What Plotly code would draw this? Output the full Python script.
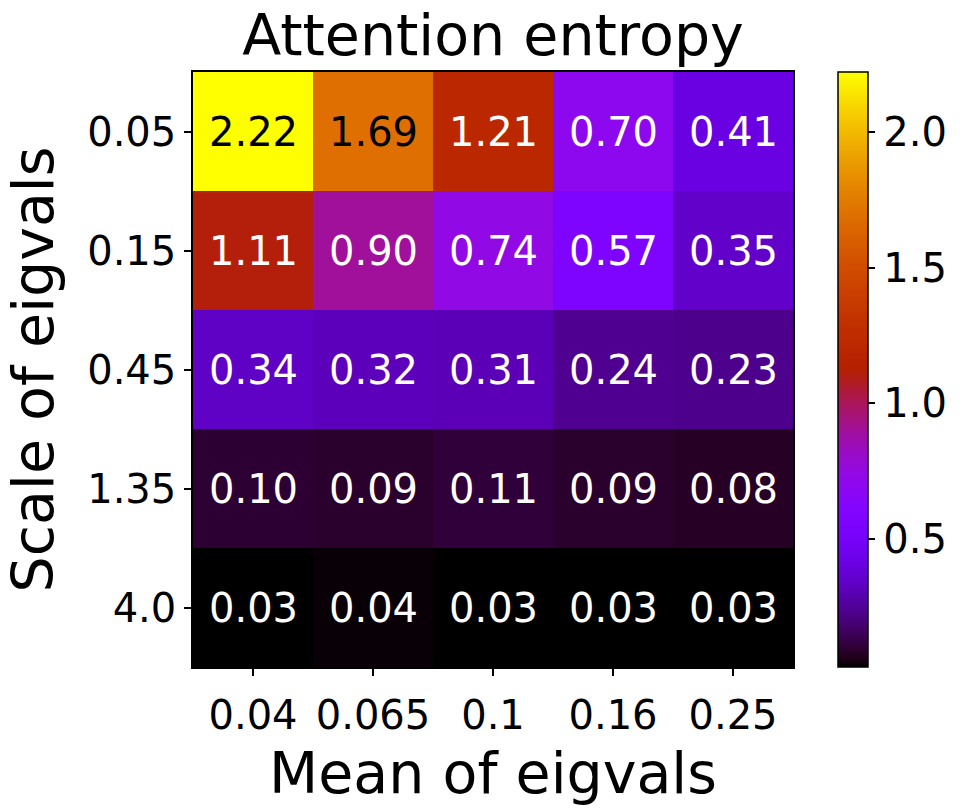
import numpy as np
import plotly.graph_objects as go

title = "Attention entropy"
x_labels = ["0.04", "0.065", "0.1", "0.16", "0.25"]
y_labels = ["0.05", "0.15", "0.45", "1.35", "4.0"]
values = [
    [2.22, 1.69, 1.21, 0.70, 0.41],
    [1.11, 0.90, 0.74, 0.57, 0.35],
    [0.34, 0.32, 0.31, 0.24, 0.23],
    [0.10, 0.09, 0.11, 0.09, 0.08],
    [0.03, 0.04, 0.03, 0.03, 0.03],
]
cbar_ticks = [0.5, 1.0, 1.5, 2.0]

# matplotlib "gnuplot" colormap
def gnuplot(t):
    r = np.sqrt(t)
    g = t ** 3
    b = np.clip(np.sin(2 * np.pi * t), 0, 1)
    return "rgb(%d,%d,%d)" % (round(r * 255), round(g * 255), round(b * 255))

stops = np.linspace(0, 1, 65)
colorscale = [[float(s), gnuplot(s)] for s in stops]

z = np.array(values)
zmin, zmax = float(z.min()), float(z.max())
FONT = "DejaVu Sans"

fig = go.Figure(go.Heatmap(
    z=values, x=x_labels, y=y_labels,
    colorscale=colorscale, zmin=zmin, zmax=zmax,
    xgap=0, ygap=0,
    colorbar=dict(
        thickness=30, len=1, lenmode="fraction",
        x=1.075, xanchor="left", y=0.5, yanchor="middle",
        xpad=0, ypad=0,
        outlinewidth=1.5, outlinecolor="black",
        tickvals=cbar_ticks, ticktext=["%.1f" % v for v in cbar_ticks],
        ticks="outside", ticklen=7, tickwidth=1.5, tickcolor="black",
        tickfont=dict(family=FONT, size=40, color="black"),
    ),
))

annotations = []
for i, yl in enumerate(y_labels):
    for j, xl in enumerate(x_labels):
        v = values[i][j]
        t = (v - zmin) / (zmax - zmin)
        color = "black" if t > 0.7 else "white"
        annotations.append(dict(
            x=j, y=i, xref="x", yref="y", text="%.2f" % v,
            showarrow=False, font=dict(family=FONT, size=40, color=color),
        ))

fig.update_layout(
    width=962, height=812,
    margin=dict(l=193, r=169, t=72, b=145),
    paper_bgcolor="white", plot_bgcolor="white",
    font=dict(family=FONT, color="black"),
    title=dict(text=title, x=0.5, xref="paper", y=1 - 35 / 812, yref="container",
               xanchor="center", yanchor="middle",
               font=dict(family=FONT, size=57, color="black")),
    annotations=annotations,
)
fig.update_xaxes(
    type="category", showline=True, linecolor="black", linewidth=1.5, mirror=True,
    ticks="outside", ticklen=7, tickwidth=1.5, tickcolor="black",
    ticklabelstandoff=5,
    tickfont=dict(family=FONT, size=40, color="black"),
    title=dict(text="Mean of eigvals", font=dict(family=FONT, size=57, color="black"), standoff=16),
    showgrid=False, zeroline=False,
)
fig.update_yaxes(
    type="category", autorange="reversed",
    showline=True, linecolor="black", linewidth=1.5, mirror=True,
    ticks="outside", ticklen=7, tickwidth=1.5, tickcolor="black",
    tickfont=dict(family=FONT, size=40, color="black"),
    title=dict(text="Scale of eigvals", font=dict(family=FONT, size=57, color="black"), standoff=29),
    showgrid=False, zeroline=False,
)

fig.write_html("out.html")
